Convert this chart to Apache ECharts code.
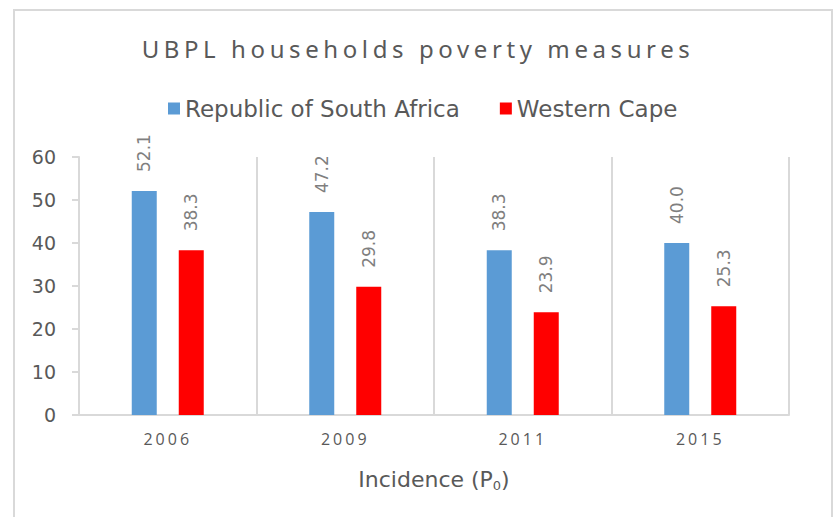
<!DOCTYPE html>
<html>
<head>
<meta charset="utf-8">
<script src="https://cdn.jsdelivr.net/npm/echarts@6/dist/echarts.min.js"></script>
<style>
  html, body { margin: 0; padding: 0; background: #fff; }
  .frame {
    position: absolute; left: 13px; top: 9px;
    width: 816px; height: 600px;
    border: 2px solid #d9d9d9;
  }
  #chart { position: absolute; left: 0; top: 0; width: 836px; height: 517px; }
  /* Excel-style spaced lettering for title and year labels */
  #chart text[style*="Noto Sans"] { letter-spacing: 4.6px; }
  #chart text[style*="Open Sans"] { letter-spacing: 3px; }
</style>
</head>
<body>
<div class="frame"></div>
<div id="chart"></div>
<script>
  var years = ['2006', '2009', '2011', '2015'];
  var southAfrica = [52.1, 47.2, 38.3, 40.0];
  var westernCape = [38.3, 29.8, 23.9, 25.3];
  var seriesNames = ['Republic of South Africa', 'Western Cape'];

  var chart = echarts.init(document.getElementById('chart'), null, { renderer: 'svg' });

  var labelStyle = {
    show: true,
    position: 'top',
    rotate: 90,
    align: 'left',
    verticalAlign: 'middle',
    distance: 19,
    color: '#7f7f7f',
    fontSize: 17,
    fontFamily: 'DejaVu Sans',
    formatter: function (p) { return p.value.toFixed(1); }
  };

  var option = {
    animation: false,
    title: {
      text: 'UBPL households poverty measures',
      left: 'center',
      top: 31,
      textStyle: {
        color: '#595959',
        fontSize: 24,
        fontWeight: 'normal',
        fontFamily: 'Noto Sans'
      }
    },
    legend: {
      data: seriesNames,
      top: 92,
      left: 163,
      icon: 'rect',
      itemWidth: 12,
      itemHeight: 12,
      itemGap: 40,
      textStyle: { color: '#595959', fontSize: 23, fontFamily: 'DejaVu Sans' }
    },
    grid: {
      left: 79,
      right: 47,
      top: 157,
      bottom: 102,
      containLabel: false
    },
    xAxis: {
      type: 'category',
      data: years,
      axisLine: { lineStyle: { color: '#d9d9d9', width: 2 } },
      axisTick: { show: false },
      splitLine: { show: true, interval: 0, lineStyle: { color: '#d9d9d9', width: 2 } },
      axisLabel: { color: '#595959', fontSize: 16, margin: 16, fontFamily: 'Open Sans' },
      name: 'Incidence (P{sub|0})',
      nameLocation: 'middle',
      nameGap: 51,
      nameTextStyle: {
        color: '#595959',
        fontSize: 22,
        lineHeight: 26,
        fontFamily: 'DejaVu Sans',
        rich: {
          sub: { fontSize: 13, lineHeight: 14, verticalAlign: 'bottom', color: '#595959', fontFamily: 'DejaVu Sans' }
        }
      }
    },
    yAxis: {
      type: 'value',
      min: 0,
      max: 60,
      interval: 10,
      axisLine: { show: true, lineStyle: { color: '#d9d9d9', width: 2 } },
      axisTick: { show: true, length: 7, lineStyle: { color: '#d9d9d9', width: 2 } },
      splitLine: { show: false },
      axisLabel: { color: '#595959', fontSize: 19, margin: 23, fontFamily: 'DejaVu Sans' }
    },
    series: [
      {
        name: seriesNames[0],
        type: 'bar',
        data: southAfrica,
        barWidth: 25,
        barGap: '88%',
        itemStyle: { color: '#5b9bd5' },
        label: labelStyle
      },
      {
        name: seriesNames[1],
        type: 'bar',
        data: westernCape,
        barWidth: 25,
        itemStyle: { color: '#ff0000' },
        label: labelStyle
      }
    ]
  };

  chart.setOption(option);
</script>
</body>
</html>
